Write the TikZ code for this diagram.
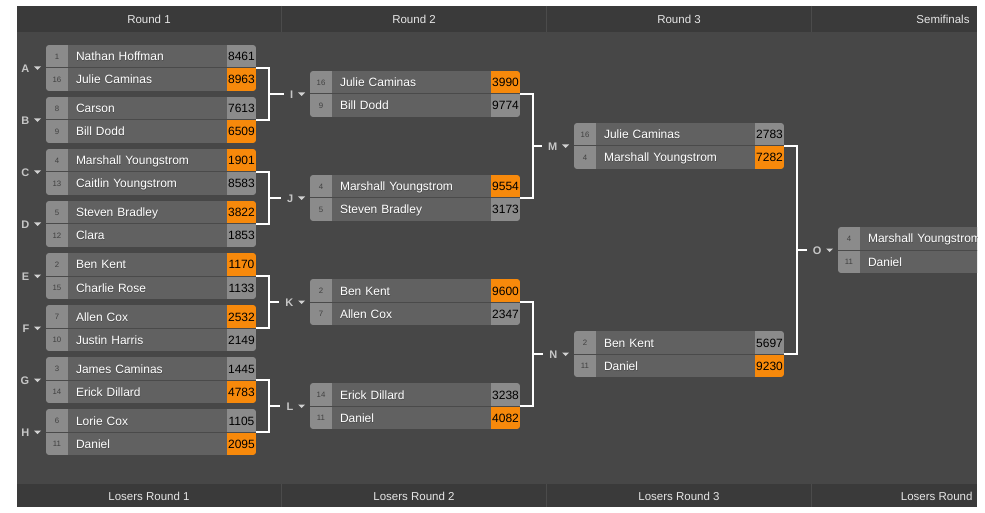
\documentclass[tikz,border=0pt]{standalone}
\usepackage{fontspec}
\setmainfont{Liberation Sans}
\usepackage{tikz}
\usetikzlibrary{positioning}

\definecolor{panel}{HTML}{474747}
\definecolor{bar}{HTML}{3A3A3A}
\definecolor{sepline}{HTML}{4B4B4B}
\definecolor{seedgray}{HTML}{8B8B8B}
\definecolor{namegray}{HTML}{616161}
\definecolor{wincol}{HTML}{F7890B}
\definecolor{rule}{HTML}{4A4A4A}
\definecolor{headtext}{HTML}{E6E6E6}
\definecolor{labgray}{HTML}{C6C6C6}

% white name text with a dark drop shadow
\newcommand{\shadowtext}[1]{\rlap{\kern0.4pt\textcolor{black!70}{\raisebox{-1pt}{#1}}}#1}

\begin{document}
\begin{tikzpicture}[
    x=1pt, y=-1pt,
    cell/.style={inner sep=0pt, outer sep=0pt, minimum height=23pt},
    seedcell/.style={cell, fill=seedgray, minimum width=22pt, text height=5.5pt, text depth=0pt, font=\fontsize{7.8}{8}\selectfont, text=black!75},
    namecell/.style={cell, fill=namegray, inner xsep=8pt, text width=143pt, align=left, text height=10pt, text depth=1pt, font=\fontsize{12}{13}\selectfont, text=white},
    losecell/.style={cell, fill=seedgray, minimum width=29pt, text height=10pt, text depth=1pt, font=\fontsize{12}{13}\selectfont, text=black},
    wincell/.style={losecell, fill=wincol},
    matchfield/.style={minimum width=210pt, minimum height=46pt, inner sep=0pt, outer sep=0pt},
    matchlab/.style={inner sep=0pt, font=\bfseries\fontsize{11}{11}\selectfont, text=labgray},
    tri/.style={fill=labgray!80},
    head/.style={font=\fontsize{11.5}{12}\selectfont, text=headtext},
    bracket/.style={draw=white, line width=1.4pt},
    divider/.style={draw=rule, line width=1pt}
]
\useasboundingbox (0,0) rectangle (985,513);
\fill[white] (0,0) rectangle (985,513);
\clip (17,6) rectangle (977,507);
\fill[panel] (17,6) rectangle (977,507);

% header and footer bars
\fill[bar] (17,6) rectangle (977,32);
\fill[bar] (17,484) rectangle (977,507);
\foreach \x in {281,546,811}
  \draw[sepline] (\x,6) -- (\x,32) (\x,484) -- (\x,507);

\node[head] (r1) at (149,19) {Round 1};
\node[head] (r2) at (414,19) {Round 2};
\node[head] (r3) at (679,19) {Round 3};
\node[head] (r4) at (943,19) {Semifinals};
\node[head] (lr1) at (149,496) {Losers Round 1};
\node[head] (lr2) at (414,496) {Losers Round 2};
\node[head] (lr3) at (679,496) {Losers Round 3};
\node[head, anchor=east] (lr4) at (976,496) {Losers Round};

% matches
\foreach \m/\cx/\cy/\sa/\na/\pa/\ta/\sb/\nb/\pb/\tb in {
    A/151/68/1/Nathan Hoffman/8461/losecell/16/Julie Caminas/8963/wincell,
    B/151/120/8/Carson/7613/losecell/9/Bill Dodd/6509/wincell,
    C/151/172/4/Marshall Youngstrom/1901/wincell/13/Caitlin Youngstrom/8583/losecell,
    D/151/224/5/Steven Bradley/3822/wincell/12/Clara/1853/losecell,
    E/151/276/2/Ben Kent/1170/wincell/15/Charlie Rose/1133/losecell,
    F/151/328/7/Allen Cox/2532/wincell/10/Justin Harris/2149/losecell,
    G/151/380/3/James Caminas/1445/losecell/14/Erick Dillard/4783/wincell,
    H/151/432/6/Lorie Cox/1105/losecell/11/Daniel/2095/wincell,
    I/415/94/16/Julie Caminas/3990/wincell/9/Bill Dodd/9774/losecell,
    J/415/198/4/Marshall Youngstrom/9554/wincell/5/Steven Bradley/3173/losecell,
    K/415/302/2/Ben Kent/9600/wincell/7/Allen Cox/2347/losecell,
    L/415/406/14/Erick Dillard/3238/losecell/11/Daniel/4082/wincell,
    M/679/146/16/Julie Caminas/2783/losecell/4/Marshall Youngstrom/7282/wincell,
    N/679/354/2/Ben Kent/5697/losecell/11/Daniel/9230/wincell,
    O/943/250/4/Marshall Youngstrom//losecell/11/Daniel//losecell}{
  \node[matchfield] (\m) at (\cx,\cy) {};
  \node[matchlab, left=16.5pt of \m, yshift=-1pt] (lab\m) {\m};
  \fill[tri] ([xshift=4.5pt,yshift=2.5pt]lab\m.east) -- ++(7,0) -- ++(-3.5,3.5) -- cycle;
  \begin{scope}
    \clip[rounded corners=3pt] (\m.north west) rectangle (\m.south east);
    \node[seedcell, anchor=north west] (\m-s1) at (\m.north west) {\sa};
    \node[namecell, right=0pt of \m-s1] (\m-n1) {\shadowtext{\na}};
    \node[\ta, right=0pt of \m-n1] (\m-p1) {\pa};
    \node[seedcell, below=0pt of \m-s1] (\m-s2) {\sb};
    \node[namecell, right=0pt of \m-s2] (\m-n2) {\shadowtext{\nb}};
    \node[\tb, right=0pt of \m-n2] (\m-p2) {\pb};
    \draw[divider] (\m.west) -- (\m.east);
  \end{scope}
}

% brackets
\foreach \a/\b/\c in {A/B/I, C/D/J, E/F/K, G/H/L, I/J/M, K/L/N, M/N/O}{
  \draw[bracket] (\a.east) -- ++(13,0) coordinate (\a\b) |- (\b.east);
  \draw[bracket] (\a\b |- \c) -- ([xshift=-6pt]lab\c.west |- \c);
}
\end{tikzpicture}
\end{document}
